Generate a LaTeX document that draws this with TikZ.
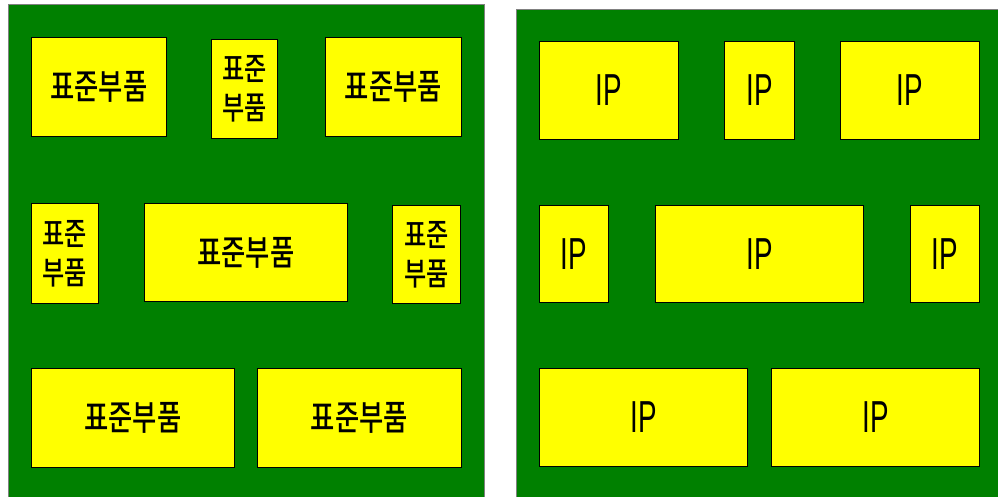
\documentclass[tikz,border=0pt]{standalone}
\usepackage{fontspec}
\setmainfont{Liberation Sans}
\newfontfamily\kr{Noto Sans CJK KR Medium}
\definecolor{pgreen}{HTML}{008000}
\definecolor{pyellow}{HTML}{FFFF00}
\tikzset{
  panel/.style={fill=pgreen, draw=gray, line width=0.8bp},
  part/.style={fill=pyellow, draw=black, line width=0.8bp, anchor=north west, inner sep=0pt, align=center},
  krtext/.style={font=\kr\fontsize{27}{35}\selectfont},
  krtwo/.style={font=\kr\fontsize{25.5}{39}\selectfont},
  iptext/.style={font=\fontsize{45}{45}\selectfont}
}
\newcommand{\iplabel}{\scalebox{0.62}[1]{IP}}
\newcommand{\krl}[1]{\scalebox{0.98}[1.3]{#1}}
\newcommand{\krs}[1]{\scalebox{0.95}[1.25]{#1}}
\begin{document}
\begin{tikzpicture}[x=1bp,y=-1bp]
\useasboundingbox (0,0) rectangle (998,497);
\fill[white] (0,0) rectangle (998,497);
\draw[panel] (8,4) rectangle (484,505);
\draw[panel] (516,9) rectangle (1005,505);
% left panel
\node[part, krtext, minimum width=135bp, minimum height=99bp] (l1) at (31,37) {\krl{표준부품}};
\node[part, krtwo, minimum width=66bp, minimum height=99bp] (l2) at (211,39) {\krs{표준}\\\krs{부품}};
\node[part, krtext, minimum width=136bp, minimum height=99bp] (l3) at (325,37) {\krl{표준부품}};
\node[part, krtwo, minimum width=67bp, minimum height=100bp] (l4) at (31,203) {\krs{표준}\\\krs{부품}};
\node[part, krtext, minimum width=203bp, minimum height=98bp] (l5) at (144,203) {\krl{표준부품}};
\node[part, krtwo, minimum width=68bp, minimum height=98bp] (l6) at (392,205) {\krs{표준}\\\krs{부품}};
\node[part, krtext, minimum width=203bp, minimum height=99bp] (l7) at (31,368) {\krl{표준부품}};
\node[part, krtext, minimum width=204bp, minimum height=99bp] (l8) at (257,368) {\krl{표준부품}};
% right panel
\node[part, iptext, minimum width=139bp, minimum height=98bp] (r1) at (539,41) {\iplabel};
\node[part, iptext, minimum width=70bp, minimum height=98bp] (r2) at (724,41) {\iplabel};
\node[part, iptext, minimum width=139bp, minimum height=98bp] (r3) at (840,41) {\iplabel};
\node[part, iptext, minimum width=69bp, minimum height=97bp] (r4) at (539,205) {\iplabel};
\node[part, iptext, minimum width=208bp, minimum height=97bp] (r5) at (655,205) {\iplabel};
\node[part, iptext, minimum width=69bp, minimum height=97bp] (r6) at (910,205) {\iplabel};
\node[part, iptext, minimum width=208bp, minimum height=98bp] (r7) at (539,368) {\iplabel};
\node[part, iptext, minimum width=208bp, minimum height=98bp] (r8) at (771,368) {\iplabel};
\end{tikzpicture}
\end{document}
